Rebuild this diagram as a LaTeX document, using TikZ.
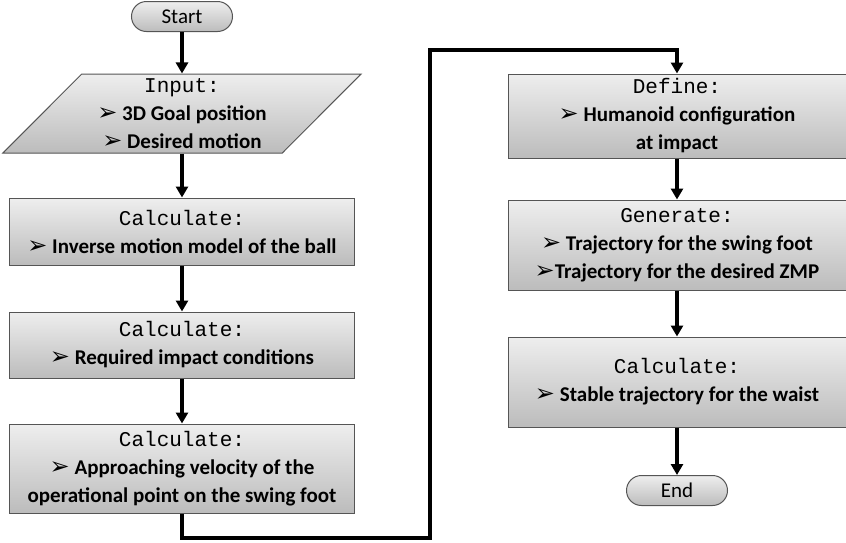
\documentclass[tikz,border=0pt]{standalone}
\usepackage{fontspec}
\setmainfont{Carlito}
\newfontfamily\monofont{Liberation Mono}
\newfontfamily\dingfont{DejaVu Sans}
\usepackage{tikz}
\usetikzlibrary{shapes,arrows.meta}
\definecolor{boxtop}{RGB}{238,238,238}
\definecolor{boxbottom}{RGB}{188,188,188}
\definecolor{boxline}{RGB}{85,85,85}
\newcommand{\steptitle}[1]{{\monofont\mdseries\fontsize{21}{28}\selectfont #1}}
\newcommand{\arrowitem}{{\dingfont\mdseries\fontsize{24}{28}\selectfont ➢}}
\tikzstyle{block} = [rectangle, draw=boxline, line width=1pt, top color=boxtop,
    bottom color=boxbottom, minimum width=344pt, align=center,
    font=\fontsize{21}{28}\selectfont\bfseries]
\tikzstyle{io} = [trapezium, trapezium left angle=48, trapezium right angle=132,
    trapezium stretches=true, draw=boxline, line width=1pt, top color=boxtop,
    bottom color=boxbottom, minimum width=359pt, minimum height=79pt,
    align=center, font=\fontsize{21}{28}\selectfont\bfseries]
\tikzstyle{terminal} = [rectangle, draw=boxline, line width=1pt, rounded corners=15pt,
    top color=boxtop, bottom color=boxbottom, minimum width=101pt,
    minimum height=30pt, inner sep=0pt, font=\fontsize{21}{24}\selectfont]
\tikzstyle{line} = [draw, line width=3.5pt, -{Triangle[length=11pt,width=12pt]}]

\begin{document}
\begin{tikzpicture}[auto]
    \useasboundingbox (-182pt,16.5pt) rectangle (664pt,-525.5pt);
    % Place nodes
    \node [terminal] (start) {Start};
    \node [io, below of=start, node distance=97pt] (input)
        {\steptitle{Input:}\\ \arrowitem\ 3D Goal position\\ \arrowitem\ Desired motion};
    \node [block, below of=input, node distance=118pt, minimum height=67pt] (ballmodel)
        {\steptitle{Calculate:}\\ \arrowitem\ Inverse motion model of the ball};
    \node [block, below of=ballmodel, node distance=113.5pt, minimum height=66pt] (impact)
        {\steptitle{Calculate:}\\ \arrowitem\ Required impact conditions};
    \node [block, below of=impact, node distance=123.5pt, minimum height=89pt] (velocity)
        {\steptitle{Calculate:}\\ \arrowitem\ Approaching velocity of the\\ operational point on the swing foot};
    \node [block, right of=input, node distance=495pt, yshift=-2.5pt,
        minimum width=338pt, minimum height=84pt] (define)
        {\steptitle{Define:}\\ \arrowitem\ Humanoid configuration\\ at impact};
    \node [block, below of=define, node distance=129pt,
        minimum width=338pt, minimum height=90pt] (generate)
        {\steptitle{Generate:}\\ \arrowitem\ Trajectory for the swing foot\\ \arrowitem{}Trajectory for the desired ZMP};
    \node [block, below of=generate, node distance=137pt,
        minimum width=338pt, minimum height=90pt] (waist)
        {\steptitle{Calculate:}\\ \arrowitem\ Stable trajectory for the waist};
    \node [terminal, below of=waist, node distance=108.5pt] (end) {End};
    % turning points of the long connector
    \coordinate (low) at (248pt,-521.5pt);
    \coordinate (high) at (248pt,-33.5pt);
    \path [line] (start) -- (input);
    \path [line] (input) -- (ballmodel);
    \path [line] (ballmodel) -- (impact);
    \path [line] (impact) -- (velocity);
    \path [line] (velocity.south) |- (low) -- (high) -| (define.north);
    \path [line] (define) -- (generate);
    \path [line] (generate) -- (waist);
    \path [line] (waist) -- (end);
\end{tikzpicture}
\end{document}
